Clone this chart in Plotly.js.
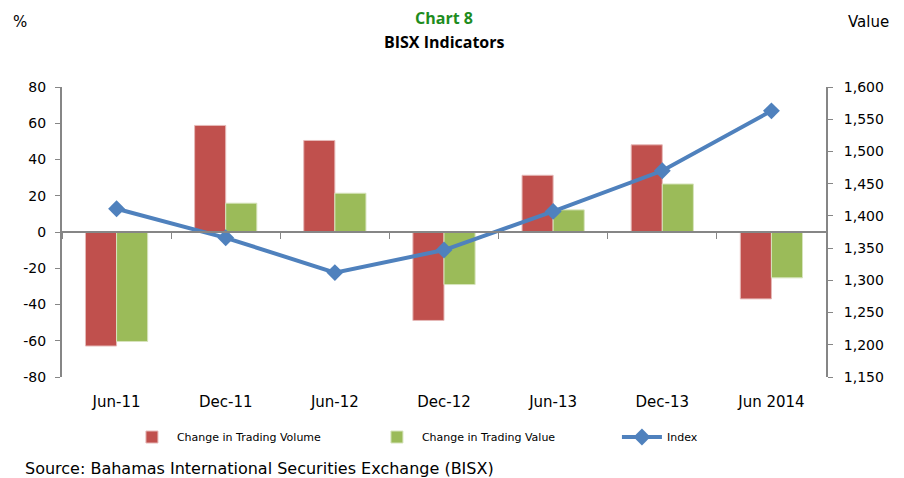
<!DOCTYPE html>
<html>
<head>
<meta charset="utf-8">
<script src="https://cdn.plot.ly/plotly-3.0.1.min.js"></script>
<style>html,body{margin:0;padding:0;background:#fff;}#chart{width:904px;height:478px;}</style>
</head>
<body>
<div id="chart"></div>
<script>
const categories = ["Jun-11", "Dec-11", "Jun-12", "Dec-12", "Jun-13", "Dec-13", "Jun 2014"];
const tradingVolume = [-62.9, 58.8, 50.5, -48.8, 31.3, 48.1, -36.9];
const tradingValue = [-60.4, 15.9, 21.4, -29.0, 12.2, 26.5, -25.3];
const indexValue = [1411, 1366, 1312, 1347, 1407, 1470, 1563];
const leftTicks = [-80, -60, -40, -20, 0, 20, 40, 60, 80];
const rightTicks = [1150, 1200, 1250, 1300, 1350, 1400, 1450, 1500, 1550, 1600];

const tickFont = {family: "DejaVu Sans, Verdana, sans-serif", size: 14, color: "#000"};
const xTickFont = {family: "DejaVu Sans, Verdana, sans-serif", size: 15, color: "#000"};

const traces = [
  {type: "bar", name: "Change in Trading Volume", x: categories, y: tradingVolume,
   marker: {color: "#C0504D", line: {color: "#E6B9B8", width: 1}}, xaxis: "x", yaxis: "y"},
  {type: "bar", name: "Change in Trading Value", x: categories, y: tradingValue,
   marker: {color: "#9BBB59", line: {color: "#D7E4BD", width: 1}}, xaxis: "x", yaxis: "y"},
  {type: "scatter", mode: "lines+markers", name: "Index", x: categories, y: indexValue,
   line: {color: "#4F81BD", width: 4}, marker: {symbol: "diamond", size: 13, color: "#4F81BD"},
   xaxis: "x", yaxis: "y2"},
  {type: "scatter", mode: "markers", x: categories, y: categories.map(() => null),
   showlegend: false, hoverinfo: "skip", xaxis: "x2", yaxis: "y"}
];

const layout = {
  width: 904, height: 478,
  margin: {l: 62, r: 78, t: 87, b: 101},
  paper_bgcolor: "#fff", plot_bgcolor: "#fff",
  barmode: "group", bargap: 0.43, bargroupgap: 0,
  showlegend: true,
  legend: {orientation: "h", x: 0.085, xanchor: "left", y: -0.207, yanchor: "middle",
           bgcolor: "rgba(0,0,0,0)",
           font: {family: "DejaVu Sans, sans-serif", size: 11, color: "#000"},
           entrywidth: 190, entrywidthmode: "pixels", itemwidth: 40, traceorder: "normal"},
  xaxis: {type: "category", categoryarray: categories, range: [-0.5, 6.5],
          showline: false, ticks: "", showgrid: false, zeroline: false,
          tickfont: xTickFont, ticklabelstandoff: 14},
  xaxis2: {type: "category", categoryarray: categories, range: [-0.5, 6.5], overlaying: "x",
           anchor: "free", position: 0.5, showline: true, linecolor: "#868686", linewidth: 2,
           ticks: "outside", tickson: "boundaries", ticklen: 6, tickcolor: "#868686", tickwidth: 1,
           showticklabels: false, showgrid: false, zeroline: false},
  yaxis: {range: [-80, 80], tickvals: leftTicks, ticktext: leftTicks.map(String),
          showline: true, linecolor: "#868686", linewidth: 2, ticks: "outside", ticklen: 5,
          tickcolor: "#868686", showgrid: false, zeroline: false, tickfont: tickFont, ticklabelstandoff: 6},
  yaxis2: {range: [1150, 1600], tickvals: rightTicks, overlaying: "y", side: "right",
           tickformat: ",d", showline: true, linecolor: "#868686", linewidth: 2, ticks: "outside",
           ticklen: 5, tickcolor: "#868686", showgrid: false, zeroline: false, tickfont: tickFont,
           ticklabelstandoff: 8},
  annotations: [
    {text: "<b>Chart 8</b>", xref: "paper", yref: "paper", x: 0.5, y: 1.238, xanchor: "center", yanchor: "middle",
     showarrow: false, font: {family: "Open Sans, sans-serif", size: 16, color: "#1E8C1E"}},
    {text: "<b>BISX Indicators</b>", xref: "paper", yref: "paper", x: 0.5, y: 1.155, xanchor: "center", yanchor: "middle",
     showarrow: false, font: {family: "Open Sans, sans-serif", size: 16, color: "#000"}},
    {text: "%", xref: "paper", yref: "paper", x: -0.055, y: 1.224, xanchor: "center", yanchor: "middle",
     showarrow: false, font: {family: "DejaVu Sans, sans-serif", size: 15, color: "#000"}},
    {text: "Value", xref: "paper", yref: "paper", x: 1.055, y: 1.224, xanchor: "center", yanchor: "middle",
     showarrow: false, font: {family: "DejaVu Sans, sans-serif", size: 15, color: "#000"}},
    {text: "Source: Bahamas International Securities Exchange (BISX)", xref: "paper", yref: "paper",
     x: -0.051, y: -0.314, xanchor: "left", yanchor: "middle", showarrow: false,
     font: {family: "DejaVu Sans, sans-serif", size: 16, color: "#000"}}
  ]
};

Plotly.newPlot("chart", traces, layout, {displayModeBar: false, staticPlot: true});
</script>
</body>
</html>
